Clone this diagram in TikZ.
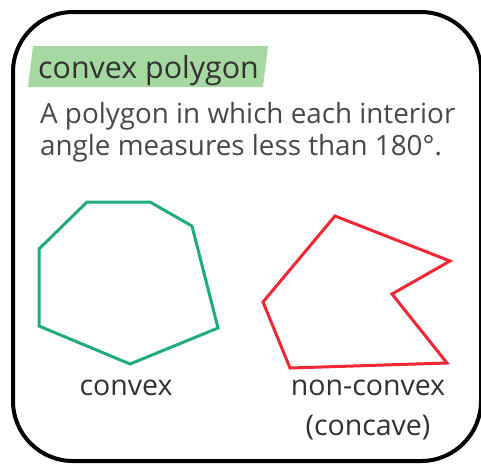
\documentclass[tikz,border=0pt]{standalone}
\usepackage{fontspec}
\setmainfont{Open Sans}
\usetikzlibrary{positioning}
\definecolor{termGreen}{RGB}{166, 216, 162}
\definecolor{textGray}{RGB}{50, 50, 50}
\definecolor{bodyGray}{RGB}{72, 72, 72}
\definecolor{convexGreen}{RGB}{32, 172, 122}
\definecolor{concaveRed}{RGB}{240, 40, 52}
\tikzset{
  cardFrame/.style={
    draw=black,
    line width=4pt,
    rounded corners=60pt
  },
  termBand/.style={
    fill=termGreen
  },
  termText/.style={
    font=\fontsize{30.4}{34}\selectfont,
    text=textGray,
    inner sep=0pt,
    anchor=base west
  },
  bodyText/.style={
    font=\fontsize{27.8}{32}\selectfont,
    text=bodyGray,
    inner sep=0pt,
    anchor=base west
  },
  shapeLabel/.style={
    font=\fontsize{28.5}{34}\selectfont,
    text=textGray,
    inner sep=0pt,
    anchor=base
  },
  polyLine/.style={
    line width=3pt,
    line join=miter
  }
}

\begin{document}
\begin{tikzpicture}[x=1pt, y=-1pt]
  \useasboundingbox (0, 0) rectangle (481, 464);
  % Card frame
  \draw[cardFrame] (13, 12) rectangle (481, 461);

  % Term heading
  \fill[termBand] (33, 46) -- (268, 46) -- (263, 87) -- (28, 87) -- cycle;
  \node[termText] (term) at (38, 78) {convex polygon};

  % Definition
  \node[bodyText] (defA) at (40, 123) {A polygon in which each interior};
  \node[bodyText] (defB) at (40, 155) {angle measures less than 180°.};

  % Convex polygon
  \draw[polyLine, draw=convexGreen]
    (87, 202) -- (150, 202) -- (192, 226) -- (218, 328)
    -- (130, 364) -- (39, 326) -- (39, 249) -- cycle;
  \node[shapeLabel] (convexLbl) at (126, 395) {convex};

  % Non-convex polygon
  \draw[polyLine, draw=concaveRed]
    (335, 216) -- (450, 261) -- (392, 294) -- (447, 363)
    -- (290, 368) -- (263, 302) -- cycle;
  \node[shapeLabel] (nonconvexLbl) at (368, 395) {non-convex};
  \node[shapeLabel] (concaveLbl) at (368, 435) {(concave)};
\end{tikzpicture}
\end{document}
